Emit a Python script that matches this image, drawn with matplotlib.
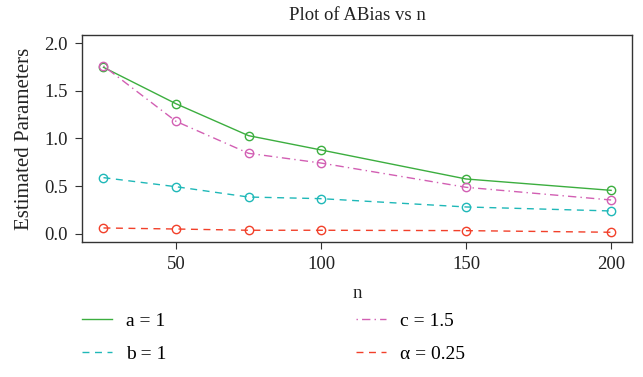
import matplotlib
matplotlib.use("Agg")
import matplotlib.pyplot as plt
from matplotlib.lines import Line2D

plt.rcParams['font.family'] = ['Liberation Serif', 'DejaVu Serif']

n = [25, 50, 75, 100, 150, 200]
a_vals = [1.746, 1.364, 1.030, 0.880, 0.576, 0.457]
b_vals = [0.590, 0.495, 0.387, 0.370, 0.283, 0.241]
c_vals = [1.760, 1.180, 0.845, 0.743, 0.489, 0.356]
alpha_vals = [0.063, 0.052, 0.039, 0.039, 0.035, 0.018]

labels = ['a = 1', 'b = 1', 'c = 1.5', 'α = 0.25']
colors = ['#3cae3f', '#1fb8b8', '#d25fb3', '#f2402a']
styles = ['-', (0, (5, 4)), (0, (1, 3, 6, 3)), (0, (5, 4))]
series = [a_vals, b_vals, c_vals, alpha_vals]

fig = plt.figure(figsize=(6.43, 3.77), dpi=100)
ax = fig.add_axes([82/643, 1-242/377, (632-82)/643, (242-35)/377])

for ys, col, ls in zip(series, colors, styles):
    ax.plot(n, ys, color=col, linestyle=ls, linewidth=1.0, marker='o',
            markersize=6, markerfacecolor='none', markeredgewidth=1.0)

ax.set_xlim(17.6, 207.2)
ax.set_ylim(-0.084, 2.084)
ax.set_xticks([50, 100, 150, 200])
ax.set_yticks([0.0, 0.5, 1.0, 1.5, 2.0])
ax.set_yticklabels(['0.0', '0.5', '1.0', '1.5', '2.0'])
ax.tick_params(labelsize=13.5, length=5, width=0.8, pad=5, colors='#333333', labelcolor='#222222')
for s in ax.spines.values():
    s.set_color('#333333')
    s.set_linewidth(1.0)

ax.set_title('Plot of ABias vs n', fontsize=13.5, color='#222222', pad=11)
ax.set_xlabel('n', fontsize=13.5, color='#222222', labelpad=9)
ax.set_ylabel('Estimated Parameters', fontsize=15, color='#222222', labelpad=7.5)

handles = [Line2D([], [], color=c, linestyle=l, linewidth=1.0) for c, l in zip(colors, styles)]
for i, x0 in enumerate([82, 356]):
    fig.legend(handles[2*i:2*i+2], labels[2*i:2*i+2], loc='upper left',
               bbox_to_anchor=(x0/643, 1-312/377), frameon=False, fontsize=14,
               handlelength=1.55, handletextpad=0.72, labelspacing=0.8,
               borderpad=0, borderaxespad=0)

fig.savefig('out.png', dpi=100)
